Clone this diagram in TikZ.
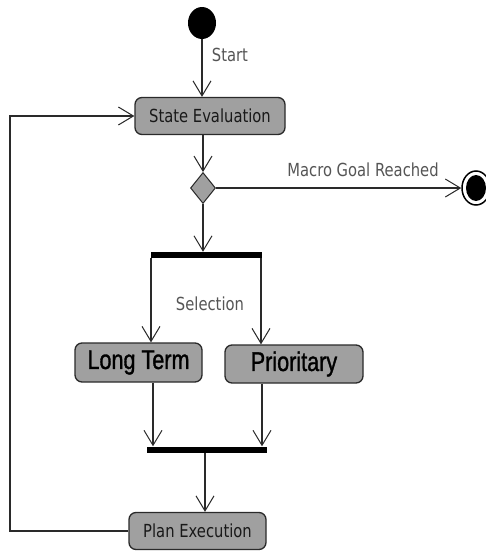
\documentclass[tikz,border=0pt]{standalone}
\usepackage{fontspec}
\usetikzlibrary{arrows.meta,shapes.geometric}
\newfontfamily\lblfont[FakeStretch=0.82]{DejaVu Sans}
\newfontfamily\bigfont[FakeStretch=0.8,FakeBold=1.2]{Liberation Sans}
\definecolor{boxgray}{HTML}{A0A0A0}
\definecolor{linegray}{HTML}{2A2A2A}
\definecolor{txtgray}{HTML}{555555}
\tikzset{
  every picture/.style={x=1pt,y=-1pt},
  act/.style={draw=linegray,line width=1.3pt,fill=boxgray,rounded corners=7pt,inner sep=0pt,
    text=black!90,font=\lblfont\fontsize{18}{20}\selectfont},
  bigact/.style={act,text=black,font=\bigfont\fontsize{27}{30}\selectfont},
  bar/.style={fill=black,draw=none,inner sep=0pt},
  lbl/.style={text=txtgray,font=\lblfont\fontsize{18}{20}\selectfont,inner sep=1pt},
  flow/.style={draw=linegray,line width=1.3pt,-{Straight Barb[length=15pt,width=18pt,line width=1pt]}},
  plain/.style={draw=linegray,line width=1.3pt}
}
\begin{document}
\begin{tikzpicture}
\useasboundingbox (0,0) rectangle (486,552);
% nodes
\node[ellipse,fill=black,minimum width=28pt,minimum height=32pt,inner sep=0pt] (start) at (202,23) {};
\node[act,minimum width=150pt,minimum height=37pt] (se) at (210,116) {State Evaluation};
\node[diamond,draw=linegray,line width=1pt,fill=boxgray,minimum width=25pt,minimum height=31pt,inner sep=0pt] (dia) at (203,188) {};
\node[ellipse,draw=black,line width=1.5pt,fill=white,minimum width=28pt,minimum height=34pt,inner sep=0pt] (final) at (476,188) {};
\node[ellipse,fill=black,minimum width=20pt,minimum height=26pt,inner sep=0pt] (finalin) at (476,188) {};
\node[bar,minimum width=111pt,minimum height=6pt] (fork) at (206.5,255) {};
\node[bigact,minimum width=127pt,minimum height=39pt] (lt) at (138.5,362.5) {Long Term};
\node[bigact,minimum width=138pt,minimum height=38pt] (pr) at (294,364) {Prioritary};
\node[bar,minimum width=120pt,minimum height=6pt] (join) at (207,449.5) {};
\node[act,minimum width=137pt,minimum height=37pt] (pe) at (197.5,531) {Plan Execution};
% labels
\node[lbl] (startlbl) at (230,55) {Start};
\node[lbl] (macrolbl) at (363,170) {Macro Goal Reached};
\node[lbl] (sellbl) at (210,304) {Selection};
% helper coordinates
\coordinate (ltin) at (151,0);
\coordinate (prin) at (261,0);
\coordinate (ltout) at (153,0);
\coordinate (prout) at (262,0);
\coordinate (loopx) at (10,0);
\coordinate (peout) at (205,0);
% connectors
\draw[flow] (start) -- (se.north -| start);
\draw[flow] (se.south -| dia) -- (dia.north);
\draw[flow] (dia.east) -- (final.west);
\draw[flow] (dia.south) -- (fork.north -| dia);
\draw[flow] (fork.south -| ltin) -- (lt.north -| ltin);
\draw[flow] (fork.south -| prin) -- (pr.north -| prin);
\draw[flow] (lt.south -| ltout) -- (join.north -| ltout);
\draw[flow] (pr.south -| prout) -- (join.north -| prout);
\draw[flow] (join.south -| peout) -- (pe.north -| peout);
\draw[flow] (pe.west) -- (pe.west -| loopx) |- (se.west);
\end{tikzpicture}
\end{document}
